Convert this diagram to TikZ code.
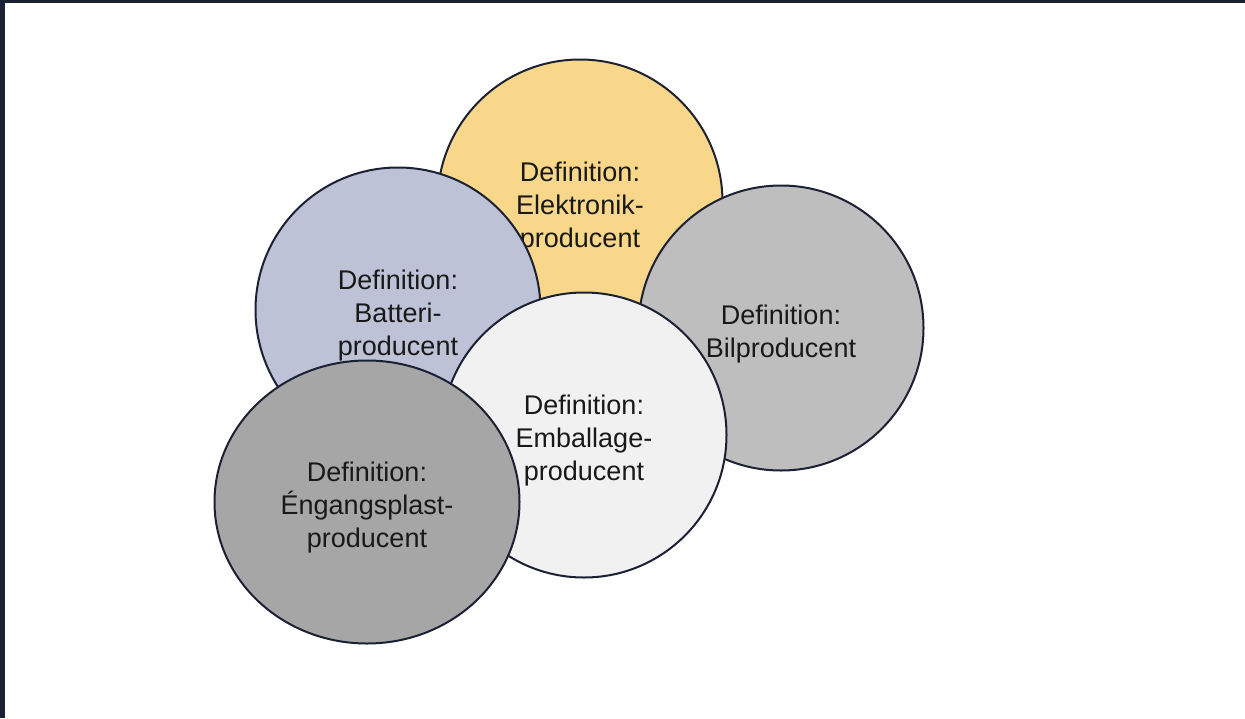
\documentclass[tikz,border=0pt]{standalone}
\usepackage{fontspec}
\setmainfont{Liberation Sans}
\usepackage{tikz}
\usetikzlibrary{shapes.geometric}

\definecolor{Ink}{HTML}{1C2033}
\definecolor{Gul}{HTML}{F8D78A}
\definecolor{Blaa}{HTML}{BDC2D6}
\definecolor{Graa}{HTML}{BEBEBE}
\definecolor{Lys}{HTML}{F1F1F1}
\definecolor{Mork}{HTML}{A6A6A6}

\tikzset{
  tekst/.style={align=center, text=black!90, yshift=-6pt,
    font=\fontsize{27}{33}\selectfont},
  kreds/.style={circle, draw=Ink, line width=2pt, minimum size=285pt,
    inner sep=0pt, label={[tekst]center:{#1}}},
  oval/.style={kreds={#1}, ellipse, minimum width=305pt, minimum height=283pt},
}

\begin{document}
\begin{tikzpicture}[x=1pt,y=-1pt]
\useasboundingbox (0,0) rectangle (1245,718);
\fill[Ink] (0,0) rectangle (1245,3);
\fill[Ink] (0,0) rectangle (5,718);

\path
 (580,202) node [kreds={Definition:\\Elektronik-\\producent}, fill=Gul]  (El) {}
 (398,310) node [kreds={Definition:\\Batteri-\\producent}, fill=Blaa]    (Ba) {}
 (781,328) node [kreds={Definition:\\Bilproducent}, fill=Graa]           (Bi) {}
 (584,435) node [kreds={Definition:\\Emballage-\\producent}, fill=Lys]   (Em) {}
 (367,502) node [oval={Definition:\\Éngangsplast-\\producent}, fill=Mork] (En) {}
;
\end{tikzpicture}
\end{document}
